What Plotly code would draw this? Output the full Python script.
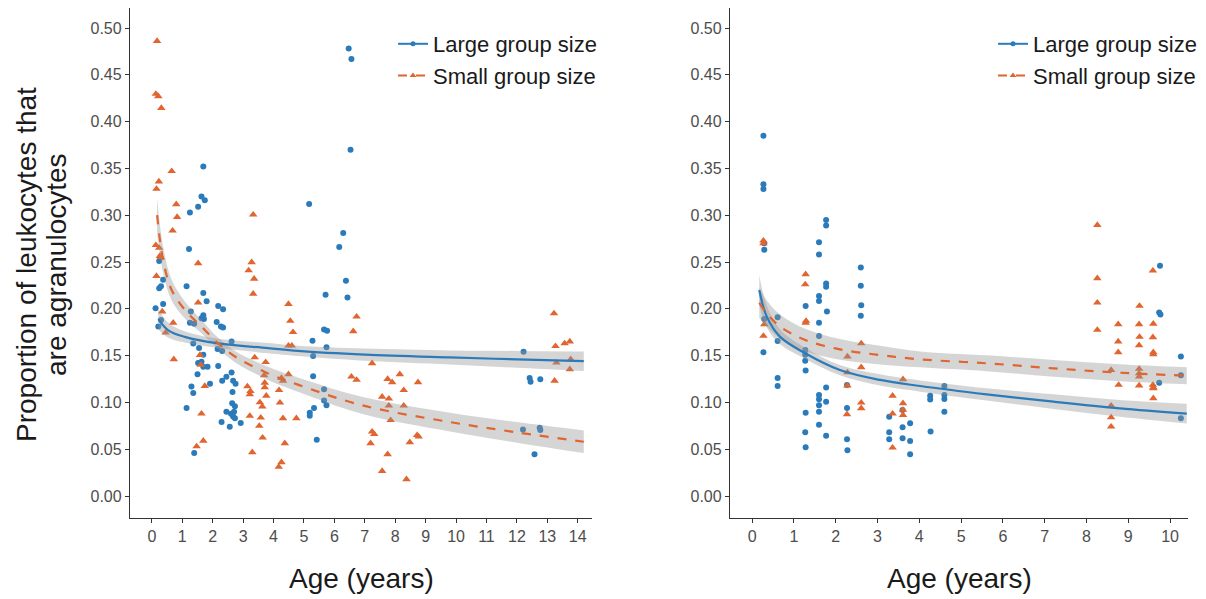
import plotly.graph_objects as go

# ---------------- data ----------------
# Left panel: Large group size (blue points)
left_large_x = [1.69,1.63,1.74,1.52,1.25,1.22,0.24,0.37,0.24,0.30,1.14,1.69,1.80,0.12,0.37,2.18,2.34,1.28,1.69,1.63,
                1.71,1.25,1.39,2.13,2.27,2.34,0.21,0.30,1.36,1.55,2.16,2.31,2.62,1.69,1.52,1.63,1.69,1.83,2.18,1.50,
                2.62,2.45,2.31,2.67,2.75,1.91,1.30,1.36,2.65,2.64,2.73,1.14,2.45,2.60,2.70,2.67,2.73,2.29,2.56,2.92,
                1.39,6.47,6.56,6.53,5.17,6.29,6.16,6.38,5.71,6.43,5.66,5.76,5.28,5.74,5.30,5.30,5.66,5.66,5.74,5.33,
                5.19,5.19,5.42,12.22,12.42,12.45,12.77,12.20,12.75,12.77,12.58]
left_large_y = [0.352,0.320,0.316,0.309,0.303,0.264,0.251,0.231,0.222,0.224,0.224,0.217,0.208,0.2005,0.205,0.203,0.1995,0.197,0.193,0.190,
                0.189,0.185,0.184,0.186,0.181,0.180,0.181,0.188,0.163,0.158,0.157,0.155,0.165,0.151,0.142,0.1435,0.138,0.138,0.139,0.130,
                0.132,0.1275,0.123,0.123,0.120,0.120,0.117,0.110,0.111,0.099,0.096,0.094,0.090,0.088,0.090,0.085,0.083,0.079,0.074,0.078,
                0.046,0.478,0.467,0.370,0.312,0.281,0.266,0.230,0.215,0.212,0.178,0.1766,0.166,0.159,0.1496,0.128,0.114,0.102,0.097,0.094,
                0.089,0.0858,0.060,0.154,0.126,0.122,0.1247,0.071,0.073,0.0705,0.0445]

# Left panel: Small group size (orange points)
left_small_x = [0.17,0.13,0.21,0.31,0.65,0.23,0.15,0.80,0.83,0.68,3.33,3.28,1.52,0.13,0.24,0.26,0.30,0.15,0.34,0.45,
                0.70,0.72,3.18,3.36,3.33,1.52,1.58,1.61,1.74,1.63,1.47,1.69,4.49,4.55,4.64,4.49,4.60,3.38,3.74,3.69,
                4.26,4.49,4.31,3.71,3.14,3.71,3.24,4.18,3.22,3.76,3.55,3.63,4.21,3.22,3.58,4.31,4.75,3.53,3.64,3.30,
                4.37,4.26,4.17,6.73,6.62,7.24,6.56,6.73,7.75,7.90,8.15,8.75,8.28,7.57,7.79,8.28,7.79,7.85,7.24,7.31,
                7.19,8.72,8.77,8.48,7.75,7.57,8.37,13.22,13.27,13.57,13.74,13.30,13.74,13.77,13.24]
left_small_y = [0.486,0.4295,0.427,0.4145,0.347,0.336,0.328,0.3116,0.298,0.2835,0.3006,0.2497,0.2486,0.268,0.265,0.2564,0.255,0.235,0.197,0.1745,
                0.185,0.146,0.241,0.232,0.216,0.2065,0.1506,0.140,0.1175,0.088,0.053,0.059,0.205,0.187,0.175,0.1606,0.1606,0.148,0.143,0.129,
                0.126,0.130,0.123,0.121,0.117,0.116,0.112,0.113,0.1086,0.107,0.100,0.0955,0.0997,0.0855,0.0837,0.083,0.083,0.0748,0.0623,0.0467,
                0.0563,0.036,0.031,0.1916,0.176,0.1418,0.1275,0.124,0.125,0.1215,0.130,0.1215,0.113,0.106,0.104,0.0965,0.0965,0.081,0.0687,0.066,
                0.0563,0.065,0.0634,0.0574,0.0445,0.0267,0.0178,0.195,0.160,0.163,0.165,0.1424,0.1354,0.146,0.123]

# Right panel: Large group size (blue points)
right_large_x = [0.27,0.27,0.27,0.29,0.29,0.29,0.27,0.61,0.61,0.61,0.61,1.77,1.77,1.60,1.60,1.77,1.77,1.60,1.60,1.79,
                 1.60,1.60,1.28,1.27,1.27,1.27,1.28,1.28,1.27,1.28,1.77,1.77,1.60,1.60,1.60,1.60,1.60,1.77,2.60,2.60,
                 2.61,2.60,2.27,2.27,2.27,2.28,3.28,3.28,3.28,3.60,3.60,3.60,3.78,3.78,3.78,4.26,4.26,4.27,4.60,4.60,
                 4.60,4.60,9.76,9.74,9.77,9.74,10.26,10.26,10.26]
right_large_y = [0.385,0.333,0.328,0.270,0.263,0.189,0.1535,0.191,0.1656,0.126,0.1175,0.295,0.289,0.271,0.258,0.227,0.2236,0.2137,0.2083,0.197,
                 0.185,0.171,0.203,0.156,0.151,0.1446,0.134,0.089,0.068,0.052,0.116,0.1008,0.108,0.1033,0.097,0.090,0.076,0.0644,0.244,0.2247,
                 0.2037,0.1926,0.1186,0.094,0.0606,0.049,0.0847,0.068,0.0606,0.0919,0.0734,0.0616,0.0777,0.0588,0.0446,0.107,0.103,0.069,0.1175,0.108,
                 0.1036,0.090,0.246,0.196,0.194,0.121,0.149,0.129,0.083]

# Right panel: Small group size (orange points)
right_small_x = [0.27,0.27,0.29,0.27,1.28,1.27,1.28,1.29,2.28,2.28,2.28,2.27,2.61,2.61,2.61,2.61,3.36,3.36,3.36,3.61,
                 3.61,3.61,3.61,8.26,8.26,8.26,8.26,8.76,8.76,8.76,8.77,8.59,8.59,8.59,8.59,9.27,9.26,9.27,9.26,9.26,
                 9.26,9.26,9.26,9.59,9.60,9.59,9.60,9.60,9.59,9.60,9.60,9.60]
right_small_y = [0.2728,0.270,0.1834,0.171,0.2368,0.226,0.185,0.187,0.149,0.132,0.118,0.0873,0.163,0.1375,0.0997,0.0937,0.107,0.088,0.0516,0.1247,
                 0.099,0.092,0.0865,0.2895,0.2326,0.2065,0.1774,0.1834,0.165,0.1535,0.1186,0.1346,0.0965,0.084,0.074,0.203,0.1834,0.170,0.161,0.1357,
                 0.131,0.1275,0.118,0.2407,0.184,0.1695,0.1535,0.1514,0.1186,0.116,0.115,0.1044]

# Fitted curves and confidence bands
left_large_fit_x = [0.21, 0.54, 1.08, 2.18, 3.82, 4.8, 7.0, 9.8, 12.0, 14.2]
left_large_fit_y = [0.189, 0.177, 0.170, 0.163, 0.158, 0.155, 0.151, 0.148, 0.146, 0.144]
left_large_lo    = [0.178, 0.169, 0.164, 0.158, 0.1525, 0.1495, 0.1445, 0.1405, 0.137, 0.1335]
left_large_hi    = [0.200, 0.185, 0.176, 0.168, 0.1635, 0.1605, 0.1575, 0.1555, 0.155, 0.1545]

left_small_fit_x = [0.17, 0.37, 0.65, 1.08, 1.63, 2.18, 2.73, 3.82, 4.8, 6.9, 9.8, 12.0, 14.2]
left_small_fit_y = [0.300, 0.252, 0.220, 0.199, 0.181, 0.163, 0.149, 0.131, 0.119, 0.097, 0.079, 0.068, 0.058]
left_small_lo    = [0.282, 0.238, 0.209, 0.190, 0.174, 0.157, 0.143, 0.124, 0.1115, 0.088, 0.069, 0.057, 0.046]
left_small_hi    = [0.318, 0.266, 0.231, 0.208, 0.188, 0.169, 0.155, 0.138, 0.1265, 0.106, 0.089, 0.079, 0.070]

right_large_fit_x = [0.17, 0.35, 0.67, 1.27, 2.1, 3.06, 4.02, 5.61, 7.21, 8.80, 10.4]
right_large_fit_y = [0.220, 0.1916, 0.170, 0.1525, 0.1346, 0.124, 0.1175, 0.1086, 0.1008, 0.0937, 0.088]
right_large_lo    = [0.204, 0.180, 0.162, 0.1465, 0.129, 0.118, 0.1115, 0.102, 0.093, 0.0847, 0.0775]
right_large_hi    = [0.236, 0.2035, 0.178, 0.1585, 0.140, 0.130, 0.1235, 0.1152, 0.1086, 0.1027, 0.0985]

right_small_fit_x = [0.17, 0.35, 0.67, 1.27, 2.1, 3.06, 4.02, 5.61, 7.21, 8.80, 10.4]
right_small_fit_y = [0.2065, 0.195, 0.181, 0.1667, 0.1567, 0.1506, 0.146, 0.1418, 0.1364, 0.1317, 0.1285]
right_small_lo    = [0.1905, 0.181, 0.168, 0.1547, 0.1457, 0.1406, 0.1375, 0.1333, 0.1274, 0.1227, 0.1195]
right_small_hi    = [0.2225, 0.209, 0.194, 0.1787, 0.1677, 0.1606, 0.1545, 0.1503, 0.1454, 0.1407, 0.1375]

x_ticks_left = list(range(0, 15))
x_ticks_right = list(range(0, 11))
y_ticks = [0.00, 0.05, 0.10, 0.15, 0.20, 0.25, 0.30, 0.35, 0.40, 0.45, 0.50]

series_names = ["Large group size", "Small group size"]
x_title = "Age (years)"
y_title_lines = ["Proportion of leukocytes that", "are agranulocytes"]

# ---------------- styling ----------------
BLUE = "#2b7bba"
ORANGE = "#e0652f"
BAND = "rgba(150,150,150,0.40)"
FONT = "Liberation Sans, Arial, sans-serif"
TXT = "#1a1a1a"

# The page has an 8px body margin; the figure is sized so it fits the window.
OFF = 8
W, H = 1206 - OFF, 599 - OFF


def xp(px):
    return (px - OFF) / W


def yp(py):
    return (H - (py - OFF)) / H


fig = go.Figure()


def add_panel(xa, ya, lx, ly, sx, sy, lfx, lfy, llo, lhi, sfx, sfy, slo, shi, legend_name):
    fig.add_trace(go.Scatter(x=lx, y=ly, mode="markers", xaxis=xa, yaxis=ya, showlegend=False,
                             marker=dict(color=BLUE, size=6, symbol="circle")))
    fig.add_trace(go.Scatter(x=sx, y=sy, mode="markers", xaxis=xa, yaxis=ya, showlegend=False,
                             marker=dict(color=ORANGE, size=7.5, symbol="triangle-up")))
    for fx, lo, hi in [(lfx, llo, lhi), (sfx, slo, shi)]:
        fig.add_trace(go.Scatter(x=fx, y=lo, mode="lines", xaxis=xa, yaxis=ya, showlegend=False,
                                 line=dict(width=0, shape="spline", color="rgba(0,0,0,0)"), hoverinfo="skip"))
        fig.add_trace(go.Scatter(x=fx, y=hi, mode="lines", xaxis=xa, yaxis=ya, showlegend=False,
                                 fill="tonexty", fillcolor=BAND,
                                 line=dict(width=0, shape="spline", color="rgba(0,0,0,0)"), hoverinfo="skip"))
    fig.add_trace(go.Scatter(x=lfx, y=lfy, mode="lines", xaxis=xa, yaxis=ya, showlegend=False,
                             line=dict(color=BLUE, width=2.2, shape="spline")))
    fig.add_trace(go.Scatter(x=sfx, y=sfy, mode="lines", xaxis=xa, yaxis=ya, showlegend=False,
                             line=dict(color=ORANGE, width=2.2, dash="dash", shape="spline")))
    fig.add_trace(go.Scatter(x=[None], y=[None], mode="lines+markers", xaxis=xa, yaxis=ya,
                             name=series_names[0], legend=legend_name,
                             line=dict(color=BLUE, width=2), marker=dict(color=BLUE, size=5, symbol="circle")))
    fig.add_trace(go.Scatter(x=[None], y=[None], mode="lines+markers", xaxis=xa, yaxis=ya,
                             name=series_names[1], legend=legend_name,
                             line=dict(color=ORANGE, width=2, dash="dash"),
                             marker=dict(color=ORANGE, size=6, symbol="triangle-up")))


add_panel("x", "y", left_large_x, left_large_y, left_small_x, left_small_y,
          left_large_fit_x, left_large_fit_y, left_large_lo, left_large_hi,
          left_small_fit_x, left_small_fit_y, left_small_lo, left_small_hi, "legend")
add_panel("x2", "y2", right_large_x, right_large_y, right_small_x, right_small_y,
          right_large_fit_x, right_large_fit_y, right_large_lo, right_large_hi,
          right_small_fit_x, right_small_fit_y, right_small_lo, right_small_hi, "legend2")

axis_common = dict(showgrid=False, zeroline=False, showline=True, linecolor="#333333", linewidth=1.3,
                   ticks="outside", ticklen=4, tickwidth=1, tickcolor="#333333",
                   tickfont=dict(family=FONT, size=16, color="#4d4d4d"), mirror=False)

# y pixel scale: 0.50 at page y 28, 0.00 at page y 496  -> plot top clipped at the figure edge
y_top_val = 0.50 + (28 - OFF) / 936.0
yd = [yp(518), 1.0]
legend_common = dict(yanchor="top", bgcolor="rgba(0,0,0,0)", traceorder="normal",
                     font=dict(family=FONT, size=22, color=TXT), itemwidth=30, tracegroupgap=0)

fig.update_layout(
    width=W, height=H,
    margin=dict(l=0, r=0, t=0, b=0),
    paper_bgcolor="white", plot_bgcolor="white",
    font=dict(family=FONT),
    xaxis=dict(domain=[xp(130), xp(592)], range=[-0.72, 14.47], tickvals=x_ticks_left, anchor="y", **axis_common),
    yaxis=dict(domain=yd, range=[-0.0235, y_top_val], tickvals=y_ticks, tickformat=".2f", anchor="x", **axis_common),
    xaxis2=dict(domain=[xp(730), xp(1188)], range=[-0.53, 10.43], tickvals=x_ticks_right, anchor="y2", **axis_common),
    yaxis2=dict(domain=yd, range=[-0.0235, y_top_val], tickvals=y_ticks, tickformat=".2f", anchor="x2", **axis_common),
    legend=dict(x=xp(602), xanchor="right", y=yp(23), **legend_common),
    legend2=dict(x=xp(1202), xanchor="right", y=yp(23), **legend_common),
    showlegend=True,
    annotations=[
        dict(text=x_title, xref="paper", yref="paper", x=xp((130 + 592) / 2), y=yp(578),
             xanchor="center", yanchor="middle", showarrow=False, font=dict(family=FONT, size=28, color=TXT)),
        dict(text=x_title, xref="paper", yref="paper", x=xp((730 + 1188) / 2), y=yp(578),
             xanchor="center", yanchor="middle", showarrow=False, font=dict(family=FONT, size=28, color=TXT)),
        dict(text=y_title_lines[0], xref="paper", yref="paper", x=xp(26), y=yp(265),
             xanchor="center", yanchor="middle", textangle=-90, showarrow=False,
             font=dict(family=FONT, size=28, color=TXT)),
        dict(text=y_title_lines[1], xref="paper", yref="paper", x=xp(56), y=yp(265),
             xanchor="center", yanchor="middle", textangle=-90, showarrow=False,
             font=dict(family=FONT, size=28, color=TXT)),
    ],
)

fig.write_html("out.html")
